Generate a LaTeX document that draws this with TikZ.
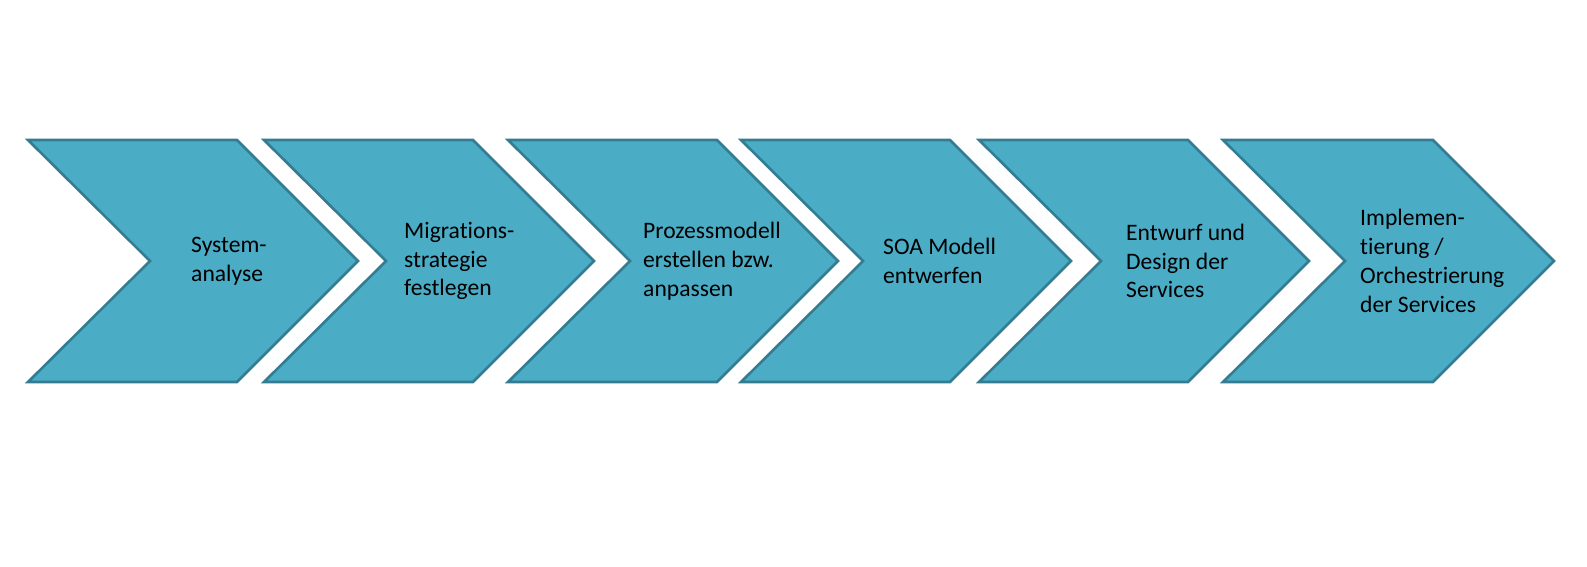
\documentclass[tikz,border=0pt]{standalone}
\usepackage{fontspec}
\setmainfont{Carlito}[Ligatures=NoCommon]
\definecolor{stufefill}{RGB}{75,172,198}
\definecolor{stufeline}{RGB}{52,124,145}
\tikzset{
	stufe/.style={fill=stufefill, draw=stufeline, line width=2.6pt, line join=miter},
	stufetext/.style={anchor=west, align=left, inner sep=0pt, font=\fontsize{23.6}{28.8}\selectfont}
}
\begin{document}
	\begin{tikzpicture}[x=1pt,y=-1pt]
		\useasboundingbox ( 0, 0 ) rectangle ( 1587, 567 );

		% Schritt 1
		\draw [stufe] ( 28, 140 ) -- ( 237, 140 ) -- ( 358, 261 ) -- ( 237, 382 ) -- ( 28, 382 ) -- ( 150, 261 ) -- cycle;
		\node [stufetext] (analyse) at ( 191, 261 ) {System-\\analyse};

		% Schritt 2
		\draw [stufe] ( 264, 140 ) -- ( 473, 140 ) -- ( 594, 261 ) -- ( 473, 382 ) -- ( 264, 382 ) -- ( 386, 261 ) -- cycle;
		\node [stufetext] (strategie) at ( 404, 261 ) {Migrations-\\strategie\\festlegen};

		% Schritt 3
		\draw [stufe] ( 508, 140 ) -- ( 717, 140 ) -- ( 838, 261 ) -- ( 717, 382 ) -- ( 508, 382 ) -- ( 630, 261 ) -- cycle;
		\node [stufetext] (prozess) at ( 643, 261 ) {Prozessmodell\\erstellen bzw.\\anpassen};

		% Schritt 4
		\draw [stufe] ( 741, 140 ) -- ( 950, 140 ) -- ( 1071, 261 ) -- ( 950, 382 ) -- ( 741, 382 ) -- ( 863, 261 ) -- cycle;
		\node [stufetext] (soa) at ( 883, 261 ) {SOA Modell\\entwerfen};

		% Schritt 5
		\draw [stufe] ( 979, 140 ) -- ( 1188, 140 ) -- ( 1309, 261 ) -- ( 1188, 382 ) -- ( 979, 382 ) -- ( 1101, 261 ) -- cycle;
		\node [stufetext] (entwurf) at ( 1126, 261 ) {Entwurf und\\Design der\\Services};

		% Schritt 6
		\draw [stufe] ( 1223, 140 ) -- ( 1433, 140 ) -- ( 1554, 261 ) -- ( 1433, 382 ) -- ( 1223, 382 ) -- ( 1345, 261 ) -- cycle;
		\node [stufetext] (implementierung) at ( 1360, 261 ) {Implemen-\\tierung /\\Orchestrierung\\der Services};
	\end{tikzpicture}
\end{document}
